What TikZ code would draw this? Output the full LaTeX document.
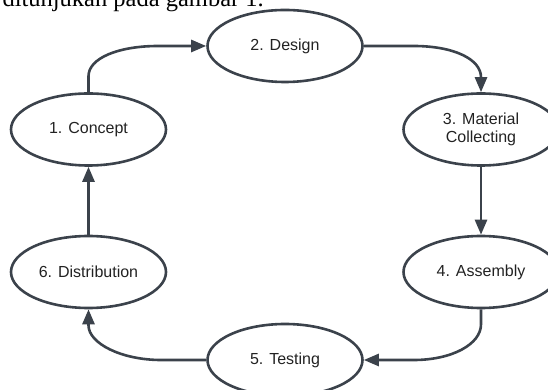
\documentclass[tikz,border=0pt]{standalone}
\usepackage{fontspec}
\setmainfont{Liberation Sans}
\newfontfamily\serifdoc{Liberation Serif}
\usetikzlibrary{arrows.meta,shapes.geometric,calc}
\definecolor{ink}{HTML}{3B424B}
\definecolor{txt}{HTML}{222222}
\begin{document}
\begin{tikzpicture}[x=1pt,y=1pt,
  stage/.style={ellipse, draw=ink, line width=2.6pt, minimum width=155pt, minimum height=72pt,
    inner sep=0pt, align=center, text=txt, font=\fontsize{16}{19}\selectfont},
  flow/.style={draw=ink, line width=2.6pt, -{Triangle[length=15pt,width=12pt]}}]
\useasboundingbox (0,0) rectangle (548,390);
\node[anchor=base east, inner sep=0pt, font=\serifdoc\fontsize{24.5}{28}\selectfont] (cap) at (264,383) {ditunjukan pada gambar 1.};
\node[stage] (c1) at (88.5,260.5) {1. Concept};
\node[stage] (c2) at (285,344) {2. Design};
\node[stage] (c3) at (481,260.5) {3. Material\\[-1pt]Collecting};
\node[stage] (c4) at (481,118) {4. Assembly};
\node[stage] (c5) at (285,30) {5. Testing};
\node[stage] (c6) at (88.5,118) {6. Distribution};
\draw[flow] (c1.north) -- ++(0,16) .. controls +(0,18) and +(-40,0) .. ($(c2.west)+(-48,0)$) -- (c2.west);
\draw[flow] (c2.east) -- ++(50,0) .. controls +(40,0) and +(0,18) .. ($(c3.north)+(0,15)$) -- (c3.north);
\draw[flow] (c3.south) -- (c4.north);
\draw[flow] (c4.south) -- ++(0,-15) .. controls +(0,-20) and +(38,0) .. ($(c5.east)+(50,0)$) -- (c5.east);
\draw[flow] (c5.west) -- ++(-45,0) .. controls +(-40,0) and +(0,-18) .. ($(c6.south)+(0,-16)$) -- (c6.south);
\draw[flow] (c6.north) -- (c1.south);
\end{tikzpicture}
\end{document}
